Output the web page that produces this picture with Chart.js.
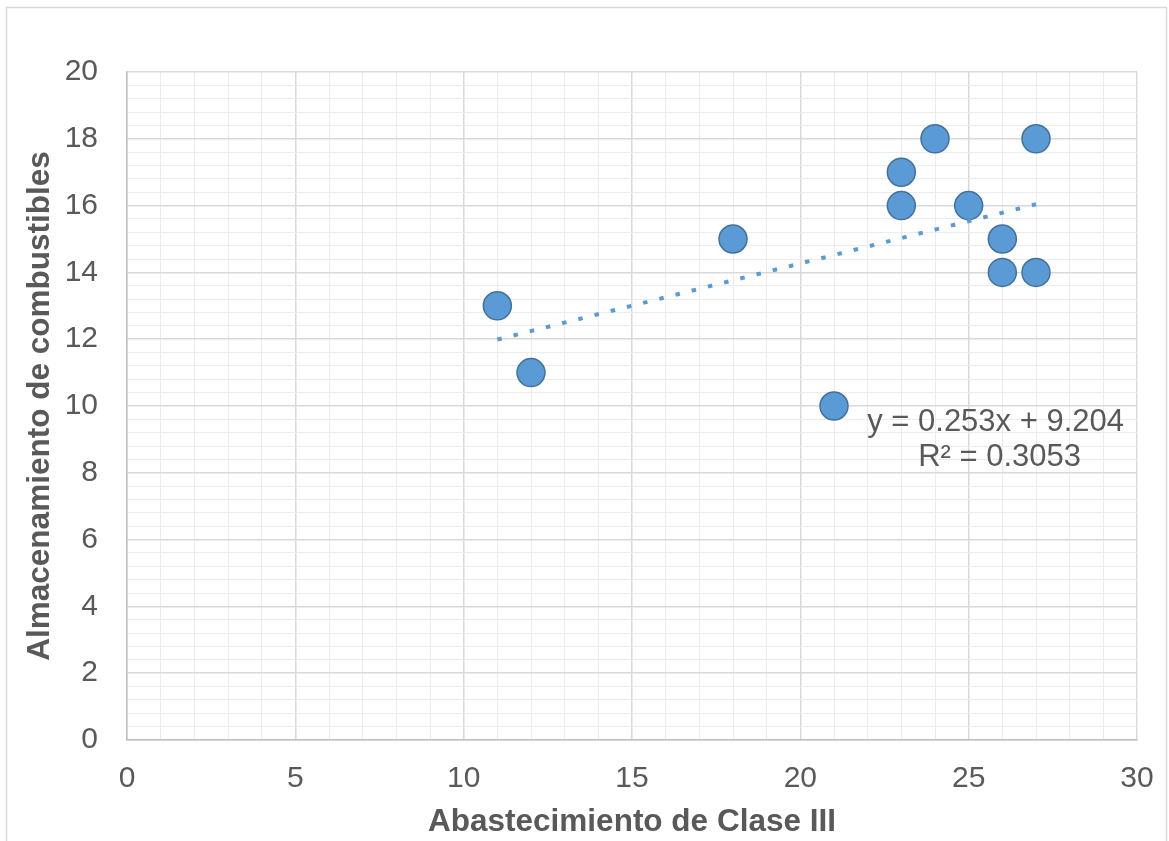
<!DOCTYPE html>
<html>
<head>
<meta charset="utf-8">
<script src="https://cdn.jsdelivr.net/npm/chart.js@4/dist/chart.umd.min.js"></script>
<style>
  html, body { margin: 0; padding: 0; background: #fff; }
  #chart { display: block; }
</style>
</head>
<body>
<canvas id="chart" width="1169" height="841"></canvas>
<script>
// Abastecimiento de Clase III (x) vs Almacenamiento de combustibles (y)
let xValues = [11, 12, 18, 21, 23, 23, 24, 25, 26, 26, 27, 27];
let yValues = [13, 11, 15, 10, 17, 16, 18, 16, 15, 14, 18, 14];

// linear trendline ends, as Excel drew it
let trendX = [11, 27];
let trendY = [11.99, 16.04];

let equationText = "y = 0.253x + 9.204";
let r2Text = "R\u00b2 = 0.3053";
let xTitle = "Abastecimiento de Clase III";
let yTitle = "Almacenamiento de combustibles";

let points = xValues.map((x, i) => ({ x: x, y: yValues[i] }));
let trend = trendX.map((x, i) => ({ x: x, y: trendY[i] }));

let textColor = "#595959";
let fontFamily = "'Liberation Sans', Arial, sans-serif";

function isMajor(v, step) {
  return Math.abs(v / step - Math.round(v / step)) < 1e-6;
}

// outer frame of the chart object
let framePlugin = {
  id: "frame",
  beforeDraw(chart) {
    let ctx = chart.ctx;
    ctx.save();
    ctx.fillStyle = "#fff";
    ctx.fillRect(0, 0, chart.width, chart.height);
    ctx.strokeStyle = "#d9d9d9";
    ctx.lineWidth = 1.5;
    ctx.strokeRect(6.5, 7.5, 1160, 900);
    ctx.restore();
  },
};

// trendline label
let equationPlugin = {
  id: "equation",
  afterDatasetsDraw(chart) {
    let ctx = chart.ctx;
    let xs = chart.scales.x;
    let ys = chart.scales.y;
    ctx.save();
    ctx.fillStyle = textColor;
    ctx.font = "31px " + fontFamily;
    ctx.textAlign = "center";
    ctx.textBaseline = "middle";
    ctx.fillText(equationText, xs.getPixelForValue(25.8), ys.getPixelForValue(9.5));
    ctx.fillText(r2Text, xs.getPixelForValue(25.92), ys.getPixelForValue(8.46));
    ctx.restore();
  },
};

let el = document.getElementById("chart");
let ctx = el.getContext("2d");
let myChart = new Chart(ctx, {
  type: "scatter",
  data: {
    datasets: [
      {
        label: "Trend",
        data: trend,
        showLine: true,
        borderColor: "#5b9bd5",
        borderWidth: 4,
        borderDash: [4.5, 12.2],
        borderCapStyle: "butt",
        pointRadius: 0,
        order: 0,
      },
      {
        label: "Datos",
        data: points,
        backgroundColor: "#5b9bd5",
        borderColor: "#41719c",
        borderWidth: 1.5,
        pointRadius: 14,
        pointHoverRadius: 14,
        order: 1,
      },
    ],
  },
  options: {
    responsive: false,
    animation: false,
    devicePixelRatio: 1,
    layout: { padding: { left: 0, top: 72, right: 32, bottom: 0 } },
    plugins: {
      legend: { display: false },
      tooltip: { enabled: false },
    },
    scales: {
      x: {
        type: "linear",
        min: 0,
        max: 30,
        afterFit(scale) {
          scale.height = 101;
          scale.paddingLeft = 0;
          scale.paddingRight = 0;
        },
        border: { color: "#bfbfbf", width: 1.5 },
        grid: {
          drawTicks: false,
          color: (c) => (isMajor(c.tick.value, 5) ? "#d9d9d9" : "#ececec"),
          lineWidth: (c) => (isMajor(c.tick.value, 5) ? 1.5 : 1),
        },
        ticks: {
          stepSize: 1,
          autoSkip: false,
          maxRotation: 0,
          padding: 21,
          color: textColor,
          font: { family: fontFamily, size: 30 },
          callback: (v) => (isMajor(v, 5) ? String(v) : ""),
        },
        title: {
          display: true,
          text: xTitle,
          color: textColor,
          font: { family: fontFamily, size: 31.5, weight: "bold" },
          padding: { top: 0, bottom: 0 },
        },
      },
      y: {
        type: "linear",
        min: 0,
        max: 20,
        afterFit(scale) {
          scale.width = 127;
          scale.paddingTop = 0;
          scale.paddingBottom = 0;
        },
        border: { color: "#bfbfbf", width: 1.5 },
        grid: {
          drawTicks: false,
          color: (c) => (isMajor(c.tick.value, 2) ? "#d9d9d9" : "#ececec"),
          lineWidth: (c) => (isMajor(c.tick.value, 2) ? 1.5 : 1),
        },
        ticks: {
          stepSize: 0.4,
          autoSkip: false,
          padding: 29,
          color: textColor,
          font: { family: fontFamily, size: 30 },
          callback: (v) => (isMajor(v, 2) ? String(Math.round(v)) : ""),
        },
        title: {
          display: true,
          text: yTitle,
          color: textColor,
          font: { family: fontFamily, size: 31.5, weight: "bold" },
          padding: { top: 21, bottom: 0 },
        },
      },
    },
  },
  plugins: [framePlugin, equationPlugin],
});
</script>
</body>
</html>
